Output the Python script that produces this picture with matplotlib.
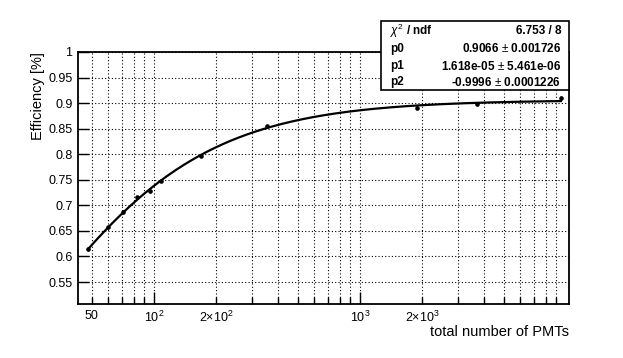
import numpy as np
import matplotlib
matplotlib.use("Agg")
import matplotlib.pyplot as plt
from matplotlib.ticker import FixedLocator
from matplotlib.patches import Rectangle

plt.rcParams['font.family'] = ['Liberation Sans', 'DejaVu Sans']
plt.rcParams['mathtext.fontset'] = 'custom'
plt.rcParams['mathtext.rm'] = 'Liberation Sans'
plt.rcParams['mathtext.it'] = 'Liberation Sans:italic'
plt.rcParams['mathtext.bf'] = 'Liberation Sans:bold'

# ---- data ----
n_pmts = [48, 60, 71, 83, 96, 108, 169, 354, 1890, 3700, 9460]
efficiency = [0.614, 0.657, 0.687, 0.716, 0.728, 0.748, 0.797, 0.855, 0.890, 0.898, 0.910]
eff_err = [0.004, 0.003, 0.003, 0.003, 0.003, 0.003, 0.003, 0.003, 0.004, 0.003, 0.004]

x_major = [100, 1000]
x_major_labels = [r'$10^{2}$', r'$10^{3}$']
x_minor_labeled = {50: '50', 200: r'$2{\times}10^{2}$', 2000: r'$2{\times}10^{3}$'}
y_ticks = [0.55, 0.6, 0.65, 0.7, 0.75, 0.8, 0.85, 0.9, 0.95, 1.0]
y_tick_labels = ['0.55', '0.6', '0.65', '0.7', '0.75', '0.8', '0.85', '0.9', '0.95', '1']

stats_labels = [r'$\chi^{2}$ / ndf', 'p0', 'p1', 'p2']
stats_values = ['6.753 / 8', '0.9066 $\\pm$ 0.001726', '1.618e-05 $\\pm$ 5.461e-06',
                '-0.9996 $\\pm$ 0.0001226']

# ---- fit curve (least squares of y = a - b/(x+c)) ----
xd = np.array(n_pmts, float)
yd = np.array(efficiency, float)
best = None
for c in np.linspace(0, 80, 801):
    A = np.vstack([np.ones_like(xd), -1.0 / (xd + c)]).T
    coef, *_ = np.linalg.lstsq(A, yd, rcond=None)
    r = np.sum((A @ coef - yd) ** 2)
    if best is None or r < best[0]:
        best = (r, coef[0], coef[1], c)
_, fa, fb, fc = best
xf = np.logspace(np.log10(xd.min()), np.log10(xd.max()), 300)
yf = fa - fb / (xf + fc)

W, H = 623, 358
fig = plt.figure(figsize=(W / 100, H / 100), dpi=100)
ax = fig.add_axes([78 / W, 1 - 304 / H, 491 / W, 252 / H])
ax.set_xscale('log')
ax.set_xlim(42.8, 10350)
ax.set_ylim(0.507, 1.0)

ax.plot(xf, yf, color='black', lw=1.6, zorder=3)
ax.errorbar(n_pmts, efficiency, yerr=eff_err, fmt='o', ms=2.3, color='black',
            elinewidth=1.0, capsize=0, zorder=4)

# ticks
minor_vals = []
for dec in [10, 100, 1000]:
    for m in range(2, 10):
        v = m * dec
        if 42.8 <= v <= 10350 and v not in x_major:
            minor_vals.append(v)
ax.xaxis.set_major_locator(FixedLocator(x_major))
ax.set_xticklabels(x_major_labels)
ax.xaxis.set_minor_locator(FixedLocator(minor_vals))
ax.xaxis.set_minor_formatter(plt.FuncFormatter(lambda v, p: x_minor_labeled.get(int(round(v)), '')))
ax.set_yticks(y_ticks)
ax.set_yticklabels(y_tick_labels)
ax.tick_params(axis='both', which='both', direction='in', labelsize=9, width=1.0,
               top=False, right=False)
ax.tick_params(axis='x', which='major', length=9, pad=4)
ax.tick_params(axis='x', which='minor', length=5, pad=4)
ax.tick_params(axis='y', which='major', length=8, pad=4)

ax.grid(True, which='both', axis='x', color='black', linestyle=(0, (1, 2)), lw=0.8)
ax.grid(True, which='major', axis='y', color='black', linestyle=(0, (1, 2)), lw=0.8)
for s in ax.spines.values():
    s.set_linewidth(1.3)

ax.set_ylabel('Efficiency [%]', fontsize=10.5, ha='right', va='center')
ax.yaxis.set_label_coords((38 - 78) / 491, 1.0)
ax.set_xlabel('total number of PMTs', fontsize=10.5, ha='right', va='center')
ax.xaxis.set_label_coords(1.0, -(332 - 304) / 252)

# stats box
x0, x1, y0, y1 = 381, 569, 21, 90
rect = Rectangle((x0 / W, 1 - y1 / H), (x1 - x0) / W, (y1 - y0) / H,
                 transform=fig.transFigure, facecolor='white', edgecolor='black',
                 lw=1.2, zorder=10)
fig.add_artist(rect)
rows_y = [31, 49, 66, 82]
for lab, val, ry in zip(stats_labels, stats_values, rows_y):
    fig.text(390 / W, 1 - ry / H, lab, fontsize=8.5, fontweight='bold',
             ha='left', va='center', zorder=11)
    fig.text(561 / W, 1 - ry / H, val, fontsize=8.5, fontweight='bold',
             ha='right', va='center', zorder=11)

fig.savefig('out.png', dpi=100)
